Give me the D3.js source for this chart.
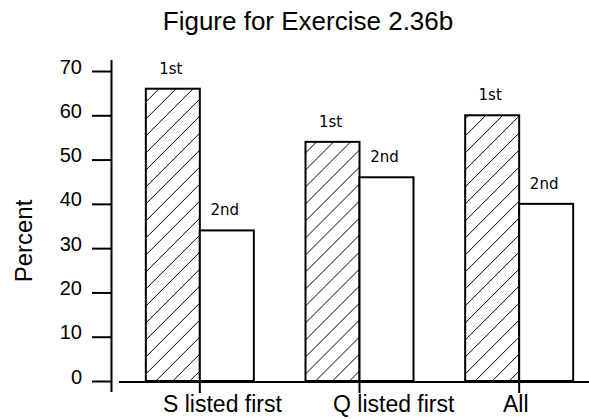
<!DOCTYPE html>
<html>
<head>
<meta charset="utf-8">
<script src="https://cdn.jsdelivr.net/npm/d3@7"></script>
<style>
  html, body { margin: 0; padding: 0; background: #fff; }
  svg { display: block; }
</style>
</head>
<body>
<script>
const categories = ["S listed first", "Q listed first", "All"];
const seriesNames = ["1st", "2nd"];
const firstValues = [66, 54, 60];
const secondValues = [34, 46, 40];
const yTicks = [0, 10, 20, 30, 40, 50, 60, 70];
const titleText = "Figure for Exercise 2.36b";
const yLabelText = "Percent";

const W = 589, H = 419;
const FONT = "'Liberation Sans', Arial, Helvetica, sans-serif";
const BARFONT = "'DejaVu Sans', Verdana, sans-serif";

const svg = d3.select("body").append("svg")
  .attr("width", W).attr("height", H);

// hatch pattern
const defs = svg.append("defs");
const pat = defs.append("pattern")
  .attr("id", "hatch")
  .attr("patternUnits", "userSpaceOnUse")
  .attr("width", 17).attr("height", 17);
pat.append("rect").attr("width", 17).attr("height", 17).attr("fill", "#fff");
pat.append("path")
  .attr("d", "M-1,15 L15,-1 M13,18 L18,13")
  .attr("stroke", "#000").attr("stroke-width", 1).attr("fill", "none");

const y = d3.scaleLinear().domain([0, 70]).range([381, 71]);
const x0 = d3.scaleBand().domain(categories).range([120, 599]);
const x1 = d3.scaleBand().domain(seriesNames).range([-54, 54]);
const labelX = d3.scalePoint().domain(categories).range([163, 503]);

const data = categories.map((c, i) => ({
  category: c,
  values: [
    { series: seriesNames[0], value: firstValues[i] },
    { series: seriesNames[1], value: secondValues[i] }
  ]
}));

// title
svg.append("text")
  .attr("x", 308).attr("y", 29.5)
  .attr("text-anchor", "middle")
  .attr("font-family", FONT).attr("font-size", 26)
  .attr("fill", "#000")
  .text(titleText);

// y label
svg.append("text")
  .attr("transform", "translate(32,241) rotate(-90)")
  .attr("text-anchor", "middle")
  .attr("font-family", FONT).attr("font-size", 24)
  .attr("fill", "#000")
  .text(yLabelText);

// y axis
const yAxisX = 111.5;
const yAxis = svg.append("g")
  .attr("transform", `translate(${yAxisX},0)`)
  .call(d3.axisLeft(y).tickValues(yTicks).tickSize(19.5).tickPadding(10).tickFormat(d3.format("d")));
yAxis.select(".domain").remove();
yAxis.selectAll(".tick line").attr("stroke", "#000").attr("stroke-width", 2);
yAxis.selectAll(".tick text")
  .attr("font-family", FONT).attr("font-size", 20)
  .attr("fill", "#000")
  .attr("dy", "0.1em");
svg.append("line")
  .attr("x1", yAxisX).attr("x2", yAxisX)
  .attr("y1", y(70) - 11).attr("y2", y(0) + 11)
  .attr("stroke", "#000").attr("stroke-width", 2);

// bars
const groups = svg.append("g").selectAll("g")
  .data(data).join("g")
  .attr("transform", d => `translate(${x0(d.category) + x0.bandwidth() / 2},0)`);

groups.selectAll("rect")
  .data(d => d.values).join("rect")
  .attr("x", d => x1(d.series))
  .attr("y", d => y(d.value))
  .attr("width", x1.bandwidth())
  .attr("height", d => y(0) - y(d.value))
  .attr("fill", (d, i) => i === 0 ? "url(#hatch)" : "#fff")
  .attr("stroke", "#000").attr("stroke-width", 2);

groups.selectAll("text")
  .data(d => d.values).join("text")
  .attr("x", d => x1(d.series) + x1.bandwidth() / 2 - 2)
  .attr("y", d => y(d.value) - 15)
  .attr("text-anchor", "middle")
  .attr("font-family", BARFONT).attr("font-size", 15)
  .attr("fill", "#000")
  .text(d => d.series);

// x axis
const xAxisY = y(0) + 1;
svg.append("line")
  .attr("x1", x0.range()[0] - 1).attr("x2", W)
  .attr("y1", xAxisY).attr("y2", xAxisY)
  .attr("stroke", "#000").attr("stroke-width", 2);
svg.append("g").selectAll("line")
  .data(categories).join("line")
  .attr("x1", d => x0(d) + x0.bandwidth() / 2)
  .attr("x2", d => x0(d) + x0.bandwidth() / 2)
  .attr("y1", xAxisY).attr("y2", xAxisY + 11)
  .attr("stroke", "#000").attr("stroke-width", 2);
svg.append("g").selectAll("text")
  .data(categories).join("text")
  .attr("x", d => labelX(d))
  .attr("y", 412)
  .attr("font-family", FONT).attr("font-size", 23)
  .attr("fill", "#000")
  .text(d => d);
</script>
</body>
</html>
